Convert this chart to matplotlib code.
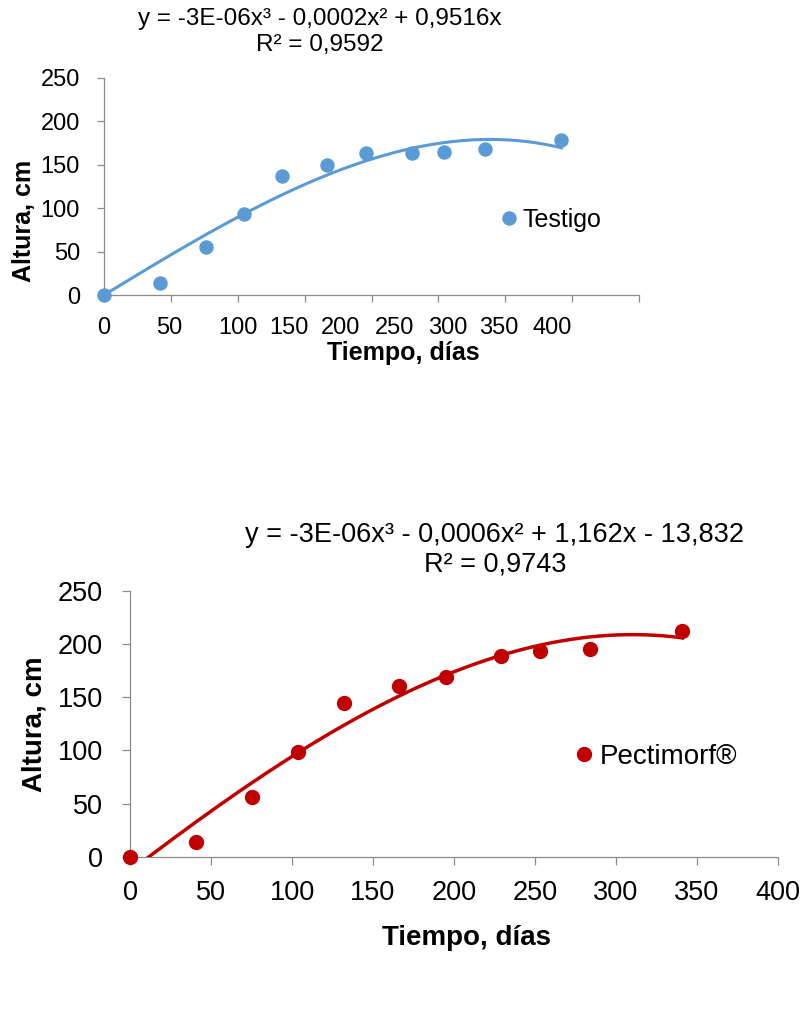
import matplotlib

matplotlib.use("Agg")
import matplotlib.pyplot as plt  # noqa: E402
import numpy as np  # noqa: E402

plt.rcParams["font.family"] = ["Liberation Sans", "DejaVu Sans"]

# sampling days and plant height (cm)
DIAS_TESTIGO = [0, 42, 76, 105, 133, 167, 196, 230, 254, 285, 342]
ALTURA_TESTIGO = [0, 14, 55.5, 93, 137, 149.5, 163, 163, 164, 168, 178]
DIAS_PECTI = [0, 41, 75, 104, 132, 166, 195, 229, 253, 284, 341]
ALTURA_PECTI = [0, 13.5, 56, 98.5, 144.5, 160.5, 168.5, 189, 193.5, 195.5, 212.5]

X_TICKS = [0, 50, 100, 150, 200, 250, 300, 350, 400]
Y_TICKS = [0, 50, 100, 150, 200, 250]
# upper panel: the day labels are packed tighter than their ticks
TOP_XLABEL_AT = [0, 48.5, 100, 138, 177, 217, 257, 295.5, 335]

EQ_TESTIGO = "y = -3E-06x³ - 0,0002x² + 0,9516x\nR² = 0,9592"
EQ_PECTI = "y = -3E-06x³ - 0,0006x² + 1,162x - 13,832\nR² = 0,9743"

BLUE = "#5B9BD5"
RED = "#C00000"
AXIS_GREY = "#8C8C8C"
W, H = 801, 1011


def cubic_trend(x, y, intercept):
    x = np.asarray(x, float)
    cols = [x ** 3, x ** 2, x] + ([np.ones_like(x)] if intercept else [])
    coef, *_ = np.linalg.lstsq(np.column_stack(cols), np.asarray(y, float), rcond=None)
    xs = np.linspace(0, x.max(), 300)
    ys = coef[0] * xs ** 3 + coef[1] * xs ** 2 + coef[2] * xs
    if intercept:
        ys = ys + coef[3]
    return xs, ys


def style_axes(ax, fs, tick_len, pad):
    for s in ("top", "right"):
        ax.spines[s].set_visible(False)
    for s in ("left", "bottom"):
        ax.spines[s].set_color(AXIS_GREY)
        ax.spines[s].set_linewidth(0.9)
    ax.tick_params(which="major", direction="out", length=tick_len, width=0.9,
                   color=AXIS_GREY, labelsize=fs, pad=pad)
    ax.set_xlim(0, 400)
    ax.set_ylim(0, 250)
    ax.set_yticks(Y_TICKS)
    ax.set_xticks(X_TICKS)


def panel(ax, dias, altura, color, intercept, label, fs, msize, lw, legend_at):
    ax.plot(dias, altura, "o", color=color, ms=msize, mec=color, label=label,
            clip_on=False, zorder=3)
    xs, ys = cubic_trend(dias, altura, intercept)
    ax.plot(xs, ys, "-", color=color, lw=lw, zorder=4)
    ax.legend(loc="center left", bbox_to_anchor=legend_at, frameon=False,
              fontsize=fs, handlelength=0.5, handletextpad=0.3, borderpad=0,
              borderaxespad=0, markerscale=1.0)


fig = plt.figure(figsize=(W / 100, H / 100), dpi=100)

# --- Testigo --------------------------------------------------------------- #
ax1 = fig.add_axes([104 / W, 1 - 295 / H, 535 / W, 217.3 / H])
style_axes(ax1, 17, 5, 12.3)
ax1.set_xticklabels([])
ax1.xaxis.remove_overlapping_locs = False
ax1.set_xticks(TOP_XLABEL_AT, minor=True)
ax1.set_xticklabels([str(v) for v in X_TICKS], minor=True)
ax1.tick_params(which="minor", length=0, labelsize=17, pad=15.5)
panel(ax1, DIAS_TESTIGO, ALTURA_TESTIGO, BLUE, False, "Testigo", 18, 9.4, 2.2,
      (0.745, 0.345))
fig.text(320 / W, 1 - 32 / H, EQ_TESTIGO, ha="center", va="center", fontsize=17.5,
         linespacing=1.2)
fig.text(24 / W, 1 - 221 / H, "Altura, cm", rotation=90, ha="center", va="center",
         fontsize=18, fontweight="bold")
fig.text(403 / W, 1 - 353 / H, "Tiempo, días", ha="center", va="center",
         fontsize=18, fontweight="bold")

# --- Pectimorf ------------------------------------------------------------- #
ax2 = fig.add_axes([130 / W, 1 - 856.7 / H, 648 / W, 266 / H])
style_axes(ax2, 19.5, 5.8, 13.6)
ax2.set_xticklabels([str(v) for v in X_TICKS])
ax2.tick_params(axis="x", pad=10.8)
panel(ax2, DIAS_PECTI, ALTURA_PECTI, RED, True, "Pectimorf®", 20, 10, 2.5,
      (0.69, 0.375))
fig.text(495 / W, 1 - 550 / H, EQ_PECTI, ha="center", va="center", fontsize=19.5,
         linespacing=1.15)
fig.text(34 / W, 1 - 724 / H, "Altura, cm", rotation=90, ha="center", va="center",
         fontsize=20, fontweight="bold")
fig.text(467 / W, 1 - 938 / H, "Tiempo, días", ha="center", va="center",
         fontsize=20, fontweight="bold")

fig.savefig("out.png", dpi=100)
